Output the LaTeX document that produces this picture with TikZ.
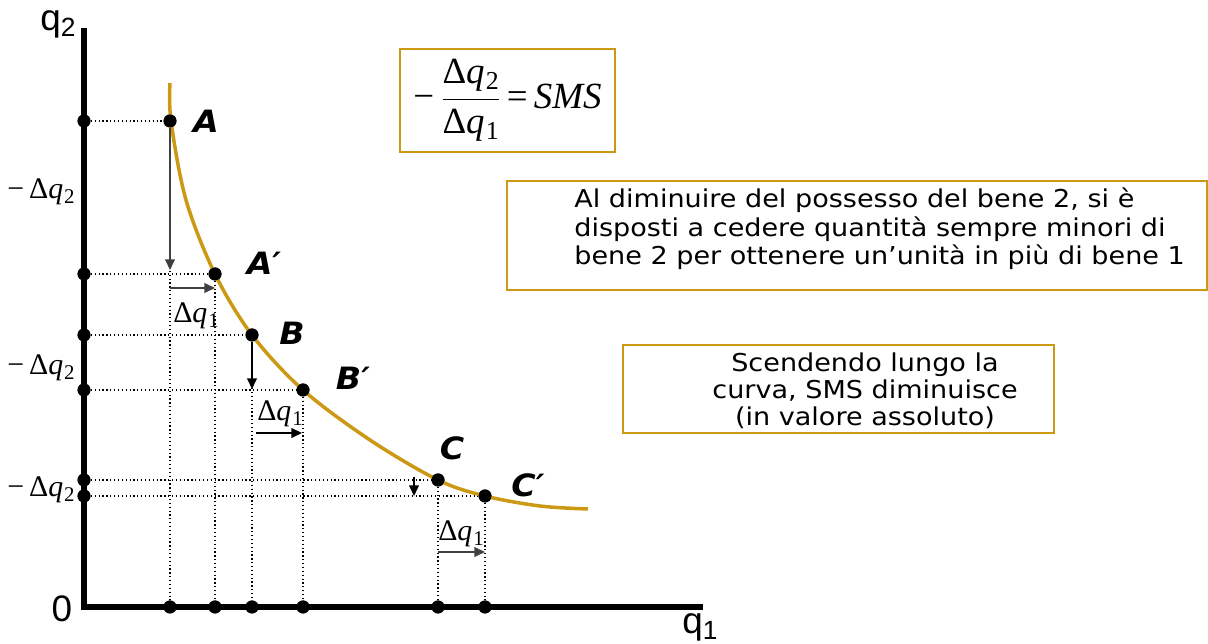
\documentclass[tikz,border=0pt]{standalone}
\usepackage{fontspec}
\setmainfont{DejaVu Sans}[FakeStretch=1.1]
\newfontfamily\lblfont{DejaVu Sans}[FakeStretch=1.08]
\newfontfamily\arialf{Liberation Sans}
\newfontfamily\tms{Liberation Serif}
\newcommand{\dq}[1]{{\tms Δ\textit{q}\kern0.03em\raisebox{-0.35ex}{\scalebox{0.7}{#1}}}}
\usetikzlibrary{arrows.meta}
\definecolor{gold}{RGB}{204,153,20}
\begin{document}
\begin{tikzpicture}[x=0.02cm,y=-0.02cm,
 axis/.style={line width=2.9pt},
 curvestyle/.style={gold, line width=2pt},
 dot/.style={circle, fill=black, inner sep=0pt, minimum size=0.26cm},
 guide/.style={line width=0.6pt, dash pattern=on 0.7pt off 1.5pt},
 arr/.style={line width=0.8pt, -{Triangle[length=6pt,width=5.5pt]}},
 ptlabel/.style={font=\lblfont\fontsize{17.5}{19}\selectfont\bfseries\itshape},
 dlabel/.style={font=\tms\fontsize{17}{19}\selectfont},
 axlabel/.style={font=\arialf\fontsize{21}{22}\selectfont},
 frame/.style={draw=gold, line width=0.8pt, inner sep=0pt}]
\useasboundingbox (0,0) rectangle (1208,644);
% axes
\coordinate (O) at (84,607);
\coordinate (ytop) at (84,28);
\coordinate (xend) at (703,607);
% points on curve
\node[dot] (A) at (170,121) {};
\node[dot] (Ap) at (215,274) {};
\node[dot] (B) at (252,335) {};
\node[dot] (Bp) at (303,390) {};
\node[dot] (C) at (438,480) {};
\node[dot] (Cp) at (485,496) {};
% axis dots
\node[dot] (yA) at (84,121) {};
\node[dot] (yAp) at (84,274) {};
\node[dot] (yB) at (84,335) {};
\node[dot] (yBp) at (84,390) {};
\node[dot] (yC) at (84,480) {};
\node[dot] (yCp) at (84,496) {};
\node[dot] (xA) at (170,607) {};
\node[dot] (xAp) at (215,607) {};
\node[dot] (xB) at (252,607) {};
\node[dot] (xBp) at (303,607) {};
\node[dot] (xC) at (438,607) {};
\node[dot] (xCp) at (485,607) {};
% guides
\draw[guide] (yA) -- (A);
\draw[guide] (yAp) -- (Ap);
\draw[guide] (yB) -- (B);
\draw[guide] (yBp) -- (Bp);
\draw[guide] (yC) -- (C);
\draw[guide] (yCp) -- (Cp);
\draw[guide] (A) -- (xA);
\draw[guide] (Ap) -- (xAp);
\draw[guide] (B) -- (xB);
\draw[guide] (Bp) -- (xBp);
\draw[guide] (C) -- (xC);
\draw[guide] (Cp) -- (xCp);
% curve
\draw[curvestyle] plot[smooth, tension=0.55] coordinates {(170,83) (171,121) (186,200) (215,274) (252,335) (303,390) (370,440) (438,480) (485,496) (540,506) (588,509)};
\draw[axis] (ytop) -- (O) -- (xend);
% dots on top of lines
\foreach \p in {(170,121),(215,274),(252,335),(303,390),(438,480),(485,496)}
  \fill \p circle (0.13cm);
\foreach \yy in {121,274,335,390,480,496} \fill (84,\yy) circle (0.13cm);
\foreach \xx in {170,215,252,303,438,485} \fill (\xx,607) circle (0.13cm);
% arrows
\coordinate (aAe) at (170,270);
\draw[arr, black!75] (A) -- (aAe);
\coordinate (hAs) at (170,288);
\coordinate (hAe) at (215,288);
\draw[arr, black!75] (hAs) -- (hAe);
\coordinate (aBe) at (252,389);
\draw[arr] (B) -- (aBe);
\coordinate (hBs) at (256,433);
\coordinate (hBe) at (302,433);
\draw[arr] (hBs) -- (hBe);
\coordinate (aCs) at (414,477);
\coordinate (aCe) at (414,496);
\draw[arr] (aCs) -- (aCe);
\coordinate (hCs) at (438,552);
\coordinate (hCe) at (485,552);
\draw[arr, black!75] (hCs) -- (hCe);
% point labels
\node[ptlabel] (lA) at (206,121) {A};
\node[ptlabel] (lAp) at (264,263) {A′};
\node[ptlabel] (lB) at (292,333) {B};
\node[ptlabel] (lBp) at (353,378) {B′};
\node[ptlabel] (lC) at (452,448) {C};
\node[ptlabel] (lCp) at (528,485) {C′};
% delta labels
\node[dlabel] (d2a) at (41,192) {−\,\dq{2}};
\node[dlabel] (d2b) at (41,368) {−\,\dq{2}};
\node[dlabel] (d2c) at (41,490) {−\,\dq{2}};
\node[dlabel] (d1a) at (196,316) {\dq{1}};
\node[dlabel] (d1b) at (280,414) {\dq{1}};
\node[dlabel] (d1c) at (461,534) {\dq{1}};
% axis labels
\node[axlabel] (q2) at (58,24) {q\raisebox{-0.35ex}{\fontsize{15}{15}\selectfont 2}};
\node[axlabel] (q1) at (700,627) {q\raisebox{-0.35ex}{\fontsize{15}{15}\selectfont 1}};
\node[axlabel] (zero) at (62,609) {0};
% formula box
\node[frame, minimum width=4.3cm, minimum height=2.06cm, font=\tms\fontsize{21}{23}\selectfont] (f) at (507.5,100.5) {−\,$\displaystyle\frac{\hbox{\dq{2}}}{\hbox{\dq{1}}}$\,=\,\textit{SMS}};
% box 2
\node[frame, minimum width=14cm, minimum height=2.18cm] (b2) at (857,235.5) {};
\node[anchor=west, align=left, inner sep=0pt, font=\fontsize{14}{16.2}\selectfont] (t2) at (574,229) {Al diminuire del possesso del bene 2, si è\\disposti a cedere quantità sempre minori di\\bene 2 per ottenere un’unità in più di bene 1};
% box 3
\node[frame, minimum width=8.62cm, minimum height=1.76cm] (b3) at (838.5,389) {};
\node[align=center, inner sep=0pt, font=\fontsize{14}{15.3}\selectfont] (t3) at (865,391) {Scendendo lungo la\\curva, SMS diminuisce\\(in valore assoluto)};
\end{tikzpicture}
\end{document}
